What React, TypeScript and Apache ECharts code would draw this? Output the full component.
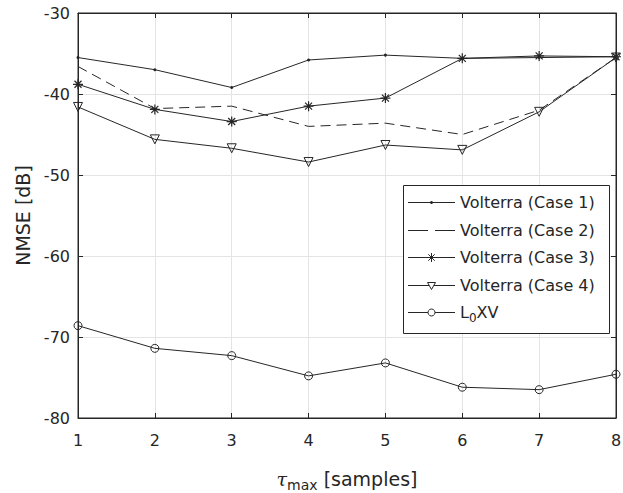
import React, { useEffect, useRef } from "react";
import * as echarts from "echarts";

const xValues = [1, 2, 3, 4, 5, 6, 7, 8];
const case1 = [-35.5, -37.0, -39.2, -35.8, -35.2, -35.6, -35.5, -35.4];
const case2 = [-36.6, -41.8, -41.5, -44.0, -43.6, -45.0, -42.0, -35.5];
const case3 = [-38.8, -41.9, -43.4, -41.5, -40.5, -35.6, -35.3, -35.4];
const case4 = [-41.6, -45.6, -46.7, -48.4, -46.3, -46.9, -42.2, -35.5];
const l0xv = [-68.6, -71.4, -72.3, -74.8, -73.2, -76.2, -76.5, -74.6];
const seriesNames = [
  "Volterra (Case 1)",
  "Volterra (Case 2)",
  "Volterra (Case 3)",
  "Volterra (Case 4)",
  "L0XV",
];
const legendLabels = [
  "{n|Volterra (Case 1)}",
  "{n|Volterra (Case 2)}",
  "{n|Volterra (Case 3)}",
  "{n|Volterra (Case 4)}",
  "{n|L}{s|0}{n|XV}",
];
const markerKinds = ["dot", "none", "star", "tri", "circle"];

const INK = "#262626";
const FONT = "DejaVu Sans, Liberation Sans, Arial, sans-serif";
const ASTERISK =
  "path://M0 5 L10 5 M5 0 L5 10 M1.5 1.5 L8.5 8.5 M8.5 1.5 L1.5 8.5";

function pairs(ys: number[]) {
  return xValues.map((x, i) => [x, ys[i]]);
}

function legendMarker(kind: string, cx: number, cy: number): any[] {
  const st = { stroke: INK, lineWidth: 1, fill: "none" };
  if (kind === "dot") return [{ type: "circle", shape: { cx, cy, r: 1.5 }, style: { fill: INK } }];
  if (kind === "circle") return [{ type: "circle", shape: { cx, cy, r: 3.5 }, style: { ...st, fill: "#fff" } }];
  if (kind === "tri")
    return [
      {
        type: "polygon",
        shape: { points: [[cx - 4, cy - 3], [cx + 4, cy - 3], [cx, cy + 4]] },
        style: { ...st, fill: "#fff" },
      },
    ];
  if (kind === "star") {
    const r = 4.5;
    const d = 3.2;
    return [
      { type: "line", shape: { x1: cx - r, y1: cy, x2: cx + r, y2: cy }, style: st },
      { type: "line", shape: { x1: cx, y1: cy - r, x2: cx, y2: cy + r }, style: st },
      { type: "line", shape: { x1: cx - d, y1: cy - d, x2: cx + d, y2: cy + d }, style: st },
      { type: "line", shape: { x1: cx + d, y1: cy - d, x2: cx - d, y2: cy + d }, style: st },
    ];
  }
  return [];
}

function buildLegend(): any[] {
  const box = { x: 403, y: 185, w: 206, h: 148 };
  const rowTop = 202;
  const rowStep = 27.5;
  const els: any[] = [
    {
      type: "rect",
      shape: { x: box.x + 0.5, y: box.y + 0.5, width: box.w, height: box.h },
      style: { fill: "#fff", stroke: INK, lineWidth: 1 },
      z: 100,
    },
  ];
  seriesNames.forEach((_, i) => {
    const y = Math.round(rowTop + i * rowStep) + 0.5;
    const kind = markerKinds[i];
    els.push({
      type: "line",
      shape: { x1: 408, y1: y, x2: 455, y2: y },
      style: { stroke: INK, lineWidth: 1, lineDash: kind === "none" ? [20, 7] : null },
      z: 101,
    });
    legendMarker(kind, 431.5, y).forEach((m) => els.push({ ...m, z: 102 }));
    els.push({
      type: "text",
      x: 460,
      y: y,
      style: {
        text: legendLabels[i],
        verticalAlign: "middle",
        align: "left",
        fill: INK,
        font: "16px " + FONT,
        rich: {
          n: { fontSize: 16, fontFamily: FONT, fill: INK, color: INK },
          s: { fontSize: 12, fontFamily: FONT, fill: INK, color: INK, padding: [10, 0, 0, 0] },
        },
      },
      z: 102,
    });
  });
  return els;
}

export default function App() {
  const ref = useRef<HTMLDivElement>(null);
  useEffect(() => {
    if (!ref.current) return;
    const chart = echarts.init(ref.current, undefined, { renderer: "svg" });
    const baseLine = { color: INK, width: 1 };
    const hollow = { color: "transparent", borderColor: INK, borderWidth: 1 };
    const tick = { show: true, inside: true, length: 5, lineStyle: { color: INK } };
    chart.setOption({
      animation: false,
      backgroundColor: "#fff",
      textStyle: { fontFamily: FONT },
      grid: {
        left: 78,
        right: 7,
        top: 13,
        bottom: 75,
        show: true,
        borderColor: INK,
        borderWidth: 1,
        backgroundColor: "#fff",
        outerBoundsMode: "none",
        containLabel: false,
      },
      xAxis: [
        {
          type: "value",
          min: 1,
          max: 8,
          interval: 1,
          name: "{t|τ}{s|max}{n| [samples]}",
          nameLocation: "middle",
          nameGap: 48,
          nameTextStyle: {
            rich: {
              t: { fontSize: 19, fontStyle: "italic", color: INK, fontFamily: "DejaVu Serif, serif" },
              s: { fontSize: 14, color: INK, fontFamily: FONT, padding: [12, 0, 0, 0] },
              n: { fontSize: 19, color: INK, fontFamily: FONT },
            },
          },
          axisLine: { show: true, lineStyle: { color: INK } },
          axisTick: tick,
          axisLabel: { color: INK, fontSize: 16, fontFamily: FONT, margin: 14 },
          splitLine: { show: true, lineStyle: { color: "#e4e4e4", width: 1 } },
        },
        {
          type: "value",
          position: "top",
          min: 1,
          max: 8,
          interval: 1,
          axisLine: { show: true, lineStyle: { color: INK } },
          axisTick: tick,
          axisLabel: { show: false },
          splitLine: { show: false },
        },
      ],
      yAxis: [
        {
          type: "value",
          min: -80,
          max: -30,
          interval: 10,
          name: "NMSE [dB]",
          nameLocation: "middle",
          nameGap: 43,
          nameTextStyle: { color: INK, fontSize: 19, fontFamily: FONT },
          axisLine: { show: true, lineStyle: { color: INK } },
          axisTick: tick,
          axisLabel: { color: INK, fontSize: 16, fontFamily: FONT, margin: 8 },
          splitLine: { show: true, lineStyle: { color: "#e4e4e4", width: 1 } },
        },
        {
          type: "value",
          position: "right",
          min: -80,
          max: -30,
          interval: 10,
          axisLine: { show: true, lineStyle: { color: INK } },
          axisTick: tick,
          axisLabel: { show: false },
          splitLine: { show: false },
        },
      ],
      graphic: buildLegend(),
      series: [
        {
          name: seriesNames[0],
          type: "line",
          data: pairs(case1),
          symbol: "circle",
          symbolSize: 3,
          lineStyle: baseLine,
          itemStyle: { color: INK },
          z: 5,
        },
        {
          name: seriesNames[1],
          type: "line",
          data: pairs(case2),
          symbol: "none",
          showSymbol: false,
          lineStyle: { color: INK, width: 1, type: [10, 6] },
          itemStyle: { color: INK },
        },
        {
          name: seriesNames[2],
          type: "line",
          data: pairs(case3),
          symbol: ASTERISK,
          symbolSize: 10,
          lineStyle: baseLine,
          itemStyle: { color: INK, borderColor: INK, borderWidth: 1.2 },
        },
        {
          name: seriesNames[3],
          type: "line",
          data: pairs(case4),
          symbol: "triangle",
          symbolRotate: 180,
          symbolSize: 9,
          lineStyle: baseLine,
          itemStyle: hollow,
        },
        {
          name: seriesNames[4],
          type: "line",
          data: pairs(l0xv),
          symbol: "circle",
          symbolSize: 8,
          lineStyle: baseLine,
          itemStyle: hollow,
        },
      ],
    });
    return () => chart.dispose();
  }, []);
  return <div ref={ref} style={{ width: 623, height: 493, position: "absolute", left: 0, top: 0 }} />;
}
